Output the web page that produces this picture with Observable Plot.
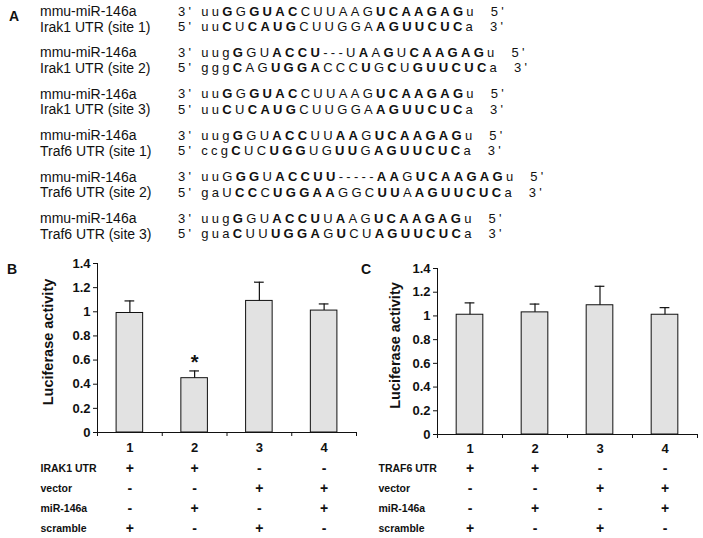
<!DOCTYPE html>
<html><head><meta charset="utf-8">
<script src="https://cdn.jsdelivr.net/npm/d3@7"></script>
<script src="https://cdn.jsdelivr.net/npm/@observablehq/plot@0.6"></script>
<style>
body{margin:0;background:#fff;}
#root{position:relative;width:703px;height:538px;overflow:hidden;font-family:"Liberation Sans",Arial,sans-serif;color:#111;}
.abs{position:absolute;line-height:1;white-space:pre;}
svg{overflow:visible;}
</style></head><body><div id="root"></div>
<script>
// ---------- Panel A data ----------
const seqNames = ["mmu-miR-146a","Irak1 UTR (site 1)","mmu-miR-146a","Irak1 UTR (site 2)","mmu-miR-146a","Irak1 UTR (site 3)","mmu-miR-146a","Traf6 UTR (site 1)","mmu-miR-146a","Traf6 UTR (site 2)","mmu-miR-146a","Traf6 UTR (site 3)"];
const seqStart = ["3'","5'","3'","5'","3'","5'","3'","5'","3'","5'","3'","5'"];
const seqBody = [
  "uu[G]G[GUAC]CUUAAG[UCAAGAG]u",
  "uu[C]U[CAUG]CUUGGA[AGUUCUC]a",
  "uug[G]GU[ACCU]---U[A]A[G]U[CAAGAG]u",
  "ggg[C]AG[UGGA]CCC[U]G[C]U[GUUCUC]a",
  "uu[G]G[GUAC]CUUAAG[UCAAGAG]u",
  "uu[C]U[CAUG]CUUGGA[AGUUCUC]a",
  "uug[G]GU[ACC]UU[AA]G[UCAAGAG]u",
  "ccg[C]UC[UGG]UG[UU]G[AGUUCUC]a",
  "uuG[GG]U[ACCUU]-----[AA]G[UCAAGAG]u",
  "gaU[CC]C[UGGAA]GGC[UU]A[AGUUCUC]a",
  "uug[G]GU[ACCU]U[A]AG[UCAAGAG]u",
  "gua[C]UU[UGGA]G[U]CU[AGUUCUC]a"
];
const seqEnd = ["5'","3'","5'","3'","5'","3'","5'","3'","5'","3'","5'","3'"];

// ---------- Panels B and C data ----------
const groups = [1, 2, 3, 4];
const yTicks = [0, 0.2, 0.4, 0.6, 0.8, 1, 1.2, 1.4];
const irakMean = [0.99, 0.45, 1.09, 1.01];
const irakSD   = [0.10, 0.06, 0.155, 0.055];
const traf6Mean = [1.01, 1.03, 1.09, 1.01];
const traf6SD   = [0.10, 0.07, 0.16, 0.06];
const rowsB = ["IRAK1 UTR", "vector", "miR-146a", "scramble"];
const rowsC = ["TRAF6 UTR", "vector", "miR-146a", "scramble"];
const tableUTR    = ["+", "+", "-", "-"];
const tableVector = ["-", "-", "+", "+"];
const tableMiR    = ["-", "+", "-", "+"];
const tableScr    = ["+", "-", "+", "-"];
const starGroup = 2;

const root = document.getElementById("root");
const FONT = "Liberation Sans, Arial, sans-serif";

function addDiv(html, left, top, style) {
  const d = document.createElement("div");
  d.className = "abs";
  d.style.left = left + "px";
  d.style.top = top + "px";
  Object.assign(d.style, style || {});
  d.innerHTML = html;
  root.appendChild(d);
  return d;
}

// Panel labels
addDiv("A", 9, 9, {fontSize: "14px", fontWeight: "bold"});
addDiv("B", 7, 262, {fontSize: "14px", fontWeight: "bold"});
addDiv("C", 361, 262, {fontSize: "14px", fontWeight: "bold"});

// Panel A sequences
function seqHTML(s) {
  let out = "", bold = false, buf = "";
  const flush = () => { if (buf) { out += bold ? "<b>" + buf + "</b>" : buf; buf = ""; } };
  for (const ch of s) {
    if (ch === "[") { flush(); bold = true; }
    else if (ch === "]") { flush(); bold = false; }
    else buf += ch;
  }
  flush();
  return out;
}
seqNames.forEach((name, i) => {
  const pair = Math.floor(i / 2), second = i % 2;
  const cy = 11 + pair * 41.4 + second * 15.5;
  addDiv(name, 40, cy - 7, {fontSize: "14px"});
  addDiv(seqStart[i] + " " + seqHTML(seqBody[i]) + "  " + seqEnd[i], 178, cy - 6.5,
         {fontSize: "13px", letterSpacing: "3.3px"});
});

// Bar charts
function chart({mean, sd, star, width, height, marginLeft, marginRight, marginTop, marginBottom, labelDx, labelDy, xPad}) {
  const data = groups.map((g, i) => ({g, v: mean[i], e: mean[i] + sd[i]}));
  return Plot.plot({
    width, height, marginLeft, marginRight, marginTop, marginBottom,
    x: {domain: [0.5, 4.5]},
    y: {domain: [0, 1.4]},
    style: {fontFamily: FONT, fontWeight: "bold", color: "#111", background: "transparent", overflow: "visible"},
    marks: [
      Plot.rect(data, {x1: d => d.g - 0.205, x2: d => d.g + 0.205, y1: 0, y2: "v", fill: "#e2e2e2", stroke: "#111", strokeWidth: 1}),
      Plot.ruleX(data, {x: "g", y1: "v", y2: "e", stroke: "#111", strokeWidth: 1.2}),
      Plot.ruleY(data, {y: "e", x1: d => d.g - 0.075, x2: d => d.g + 0.075, stroke: "#111", strokeWidth: 1.2}),
      Plot.ruleX([0.5], {stroke: "#111"}),
      Plot.ruleY([0], {stroke: "#111"}),
      Plot.axisY({ticks: yTicks, tickFormat: d => String(Math.round(d * 10) / 10), tickSize: 4, tickPadding: 3, fontSize: 13, label: null}),
      Plot.axisX({ticks: [0.5, 1.5, 2.5, 3.5, 4.5], tickFormat: () => "", tickSize: 4, label: null}),
      Plot.axisX({ticks: groups, tickFormat: d => String(d), tickSize: 0, tickPadding: xPad, fontSize: 13, label: null}),
      Plot.text(["Luciferase activity"], {frameAnchor: "left", textAnchor: "middle", rotate: -90, dx: labelDx, dy: labelDy, fontSize: 14.5}),
      star ? Plot.text(data.filter(d => d.g === star), {x: "g", y: "e", text: () => "*", dy: -8, fontSize: 20}) : null
    ]
  });
}
function table({rows, width, height, marginLeft, marginRight, labelPad}) {
  const cols = [tableUTR, tableVector, tableMiR, tableScr];
  const cells = [];
  rows.forEach((r, ri) => groups.forEach((g, gi) => cells.push({row: r, g, s: cols[ri][gi]})));
  return Plot.plot({
    width, height, marginLeft, marginRight, marginTop: 3, marginBottom: 0,
    x: {domain: [0.5, 4.5], axis: null},
    y: {type: "band", domain: rows, padding: 0},
    style: {fontFamily: FONT, fontWeight: "bold", color: "#111", background: "transparent", overflow: "visible"},
    marks: [
      Plot.axisY({tickSize: 0, tickPadding: labelPad, textAnchor: "start", fontSize: 10.5, label: null}),
      Plot.text(cells, {x: "g", y: "row", text: "s", fontSize: 14})
    ]
  });
}
function place(el, left, top) {
  el.style.position = "absolute";
  el.style.left = left + "px";
  el.style.top = top + "px";
  root.appendChild(el);
}
place(chart({mean: irakMean, sd: irakSD, star: starGroup, width: 360, height: 205,
  marginLeft: 97, marginRight: 4, marginTop: 13, marginBottom: 23, labelDx: -49, labelDy: -6, xPad: 10}), 0, 250);
place(table({rows: rowsB, width: 360, height: 83, marginLeft: 97, marginRight: 4, labelPad: 57}), 0, 455);
place(chart({mean: traf6Mean, sd: traf6SD, star: null, width: 353, height: 205,
  marginLeft: 87, marginRight: 6, marginTop: 18, marginBottom: 21, labelDx: -42, labelDy: -6, xPad: 9.5}), 350, 250);
place(table({rows: rowsC, width: 353, height: 83, marginLeft: 87, marginRight: 6, labelPad: 59}), 350, 455);
</script></body></html>
